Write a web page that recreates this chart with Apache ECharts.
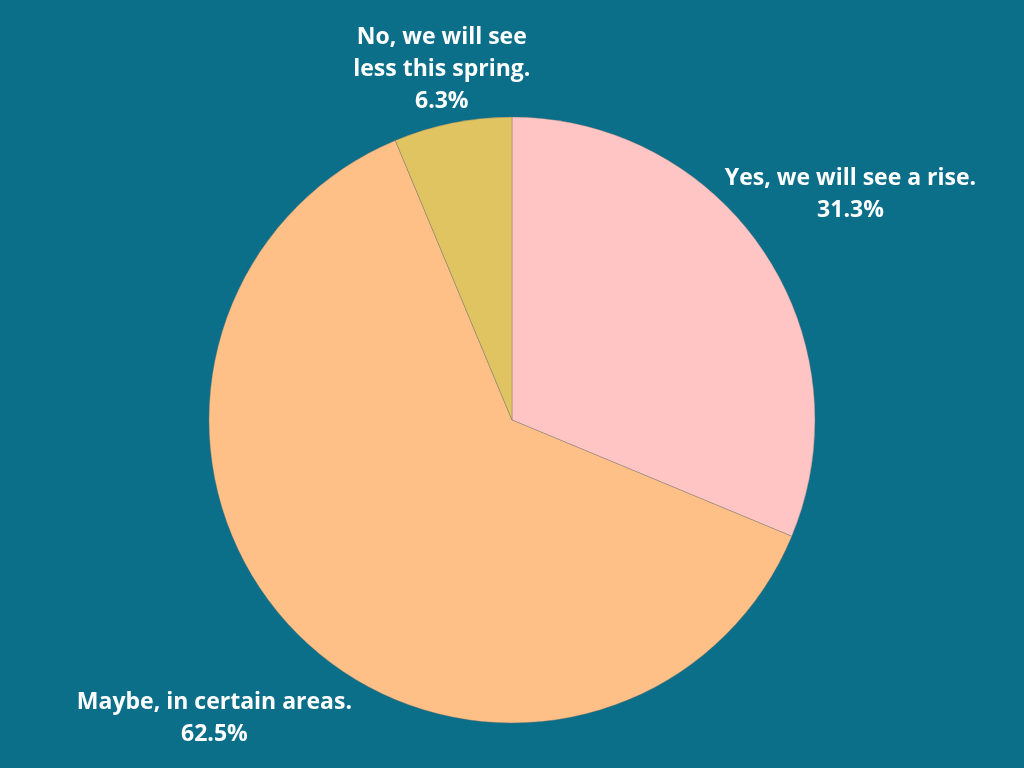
<!DOCTYPE html>
<html>
<head>
<meta charset="utf-8">
<script src="https://cdn.jsdelivr.net/npm/echarts@6/dist/echarts.min.js"></script>
<style>
html,body{margin:0;padding:0;background:#0b6f8a;}
#main{width:1024px;height:768px;}
</style>
</head>
<body>
<div id="main"></div>
<script>
// Data
const categories = ['Yes, we will see a rise.', 'Maybe, in certain areas.', 'No, we will see\nless this spring.'];
const values = [31.3, 62.5, 6.3];
const colors = ['#ffc5c5', '#ffc088', '#e0c462'];

// Layout (label distance from center as fraction of radius)
const labelRadiusFactor = [1.343, 1.39, 1.18];
const CX = 512, CY = 420, R = 303;

const total = values.reduce((a, b) => a + b, 0);
const midAngles = [];
let acc = 0;
values.forEach(v => {
  const start = 90 - acc / total * 360;
  acc += v;
  const end = 90 - acc / total * 360;
  midAngles.push((start + end) / 2 * Math.PI / 180);
});

const chart = echarts.init(document.getElementById('main'));
chart.setOption({
  backgroundColor: '#0b6f8a',
  animation: false,
  series: [{
    type: 'pie',
    center: [CX, CY],
    radius: [0, R],
    startAngle: 90,
    clockwise: true,
    data: categories.map((c, i) => ({ name: c, value: values[i], itemStyle: { color: colors[i] } })),
    itemStyle: { borderColor: 'rgba(120,110,100,0.6)', borderWidth: 0.6 },
    label: {
      show: true,
      position: 'outside',
      alignTo: 'none',
      overflow: 'none',
      formatter: p => p.name + '\n' + p.value.toFixed(1) + '%',
      color: '#ffffff',
      fontFamily: 'Open Sans',
      fontWeight: 700,
      fontSize: 23,
      lineHeight: 32,
      align: 'center'
    },
    labelLine: { show: false },
    emphasis: { disabled: true },
    labelLayout: function (params) {
      const i = params.dataIndex;
      const a = midAngles[i];
      const d = R * labelRadiusFactor[i];
      return {
        x: CX + Math.cos(a) * d,
        y: CY - Math.sin(a) * d,
        align: 'center',
        verticalAlign: 'middle',
        hideOverlap: false,
        moveOverlap: false
      };
    }
  }]
});
</script>
</body>
</html>
